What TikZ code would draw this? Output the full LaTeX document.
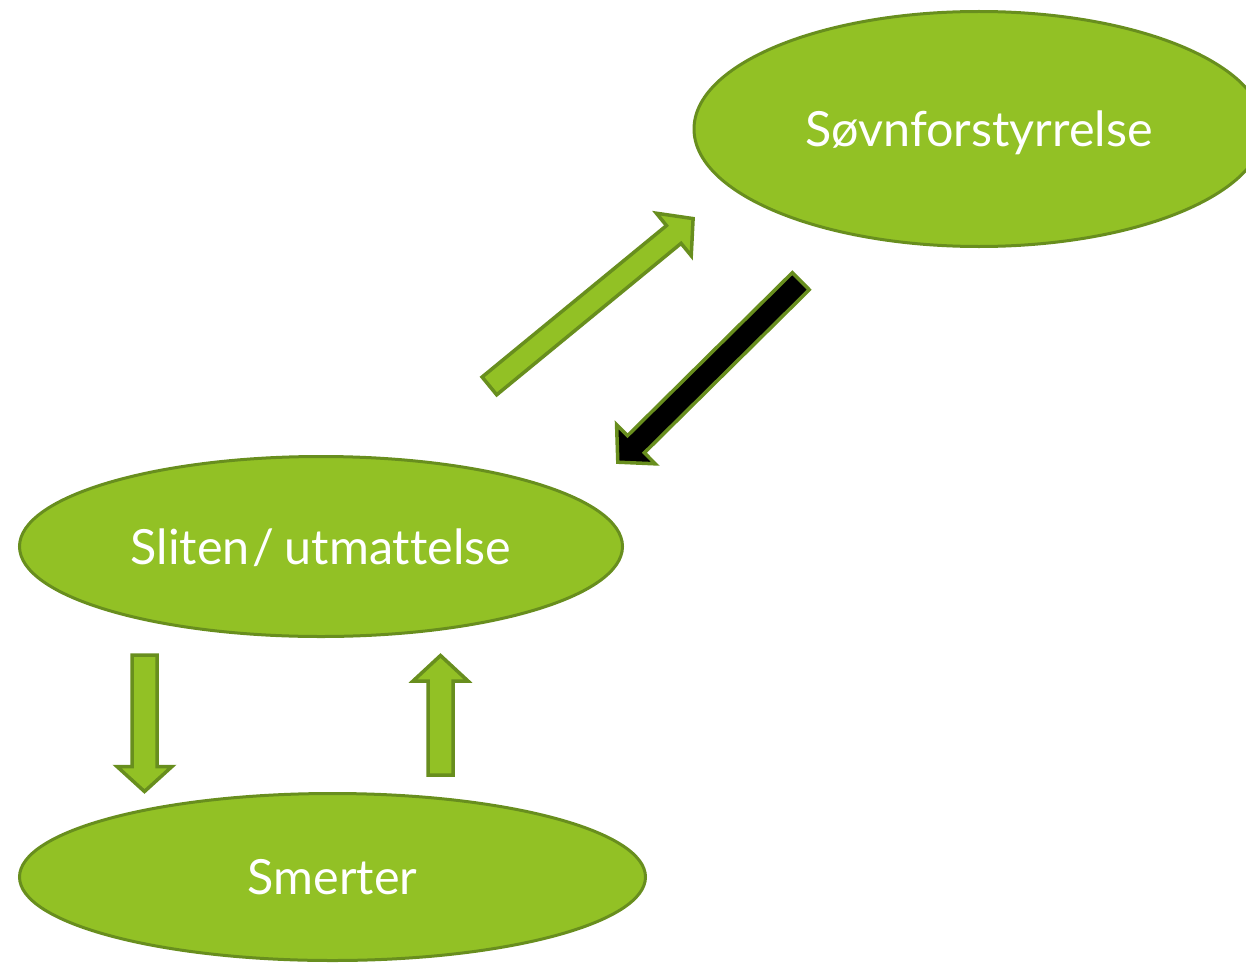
\documentclass[tikz,border=0pt]{standalone}
\usepackage{fontspec}
\setmainfont[Ligatures=NoCommon]{Lato}
\usetikzlibrary{shapes.geometric,calc}

\definecolor{leaf}{RGB}{146,193,37}
\definecolor{leafedge}{RGB}{104,142,30}

% Block arrow drawn as a polygon from a tail point to a tip point.
% #1 style, #2 tail, #3 tip, #4 shaft half width, #5 head half width, #6 head length
\newcommand\blockarrow[6]{%
  \coordinate (#2-#3-base) at ($(#3)!#6!(#2)$);
  \draw[#1]
    ($(#2)!#4!90:(#3)$) --
    ($(#2-#3-base)!#4!-90:(#2)$) --
    ($(#2-#3-base)!#5!-90:(#2)$) --
    (#3) --
    ($(#2-#3-base)!#5!90:(#2)$) --
    ($(#2-#3-base)!#4!90:(#2)$) --
    ($(#2)!#4!-90:(#3)$) -- cycle;
}

\tikzset{
  state/.style={ellipse, draw=leafedge, fill=leaf, line width=3pt,
    inner sep=0pt, text=white, font=\fontsize{48.5}{58}\selectfont,
    text height=35pt, text depth=0pt},
  greenblock/.style={draw=leafedge, fill=leaf, line width=3.5pt, line join=miter},
  blackblock/.style={draw=leafedge, fill=black, line width=3.5pt, line join=miter},
}

\begin{document}
\begin{tikzpicture}[x=1pt, y=-1pt]
  \useasboundingbox (0,0) rectangle (1246,963);
  \clip (0,0) rectangle (1246,963);

  % states
  \node[state, minimum width=570pt, minimum height=235pt] (sovn) at (979,129) {Søvnforstyrrelse};
  \node[state, minimum width=603pt, minimum height=180pt] (sliten) at (321,546.5) {Sliten\kern3pt/\kern10pt utmattelse};
  \node[state, minimum width=626pt, minimum height=167pt] (smerter) at (332.5,877) {Smerter};

  % arrow end points
  \coordinate (upT)   at (489.4,385.9);
  \coordinate (upH)   at (693.1,218.6);
  \coordinate (dnT)   at (800.8,281.2);
  \coordinate (dnH)   at (617.8,462.2);
  \coordinate (leftT) at (144.5,655);
  \coordinate (leftH) at (144.5,791.5);
  \coordinate (rightT) at (440.5,775);
  \coordinate (rightH) at (440.5,655.5);

  \blockarrow{greenblock}{upT}{upH}{11.5pt}{27.5pt}{25pt}
  \blockarrow{blackblock}{dnT}{dnH}{12pt}{27.5pt}{25.5pt}
  \blockarrow{greenblock}{leftT}{leftH}{12.5pt}{27.5pt}{25pt}
  \blockarrow{greenblock}{rightT}{rightH}{12.5pt}{27.5pt}{25.5pt}
\end{tikzpicture}
\end{document}
